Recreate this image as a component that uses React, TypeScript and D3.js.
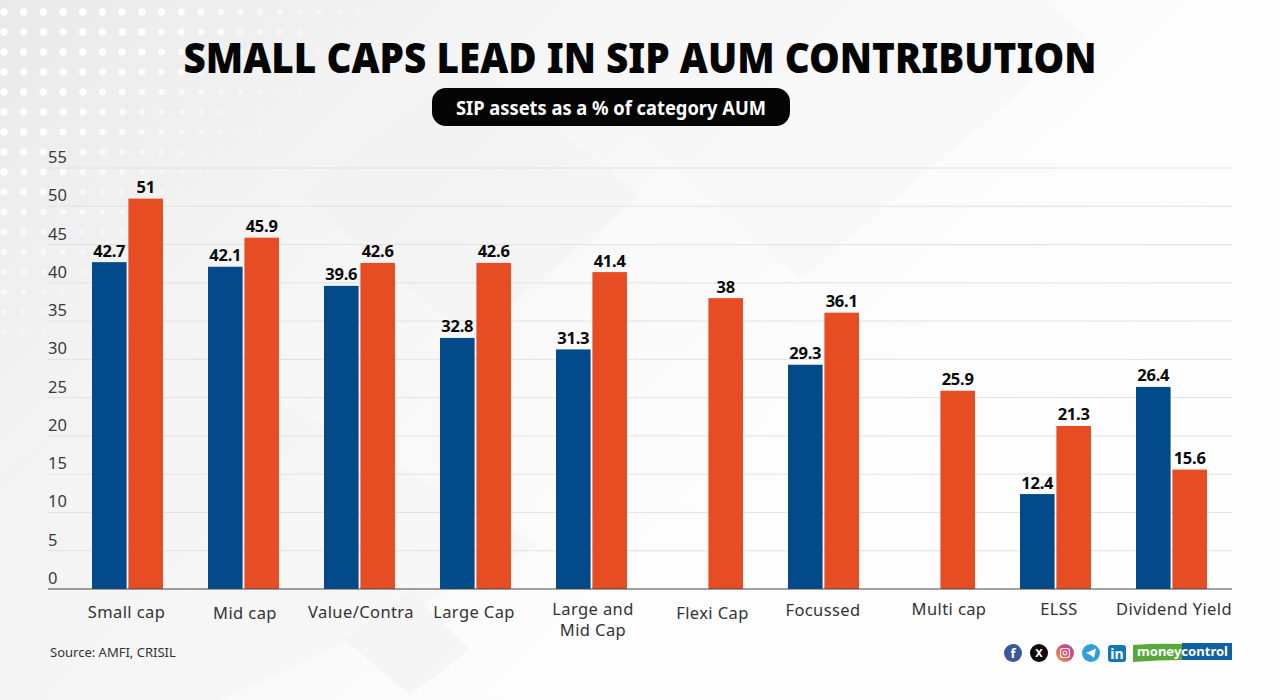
import React from "react";
import * as d3 from "d3";

const categories = ["Small cap", "Mid cap", "Value/Contra", "Large Cap", "Large and Mid Cap", "Flexi Cap", "Focussed", "Multi cap", "ELSS", "Dividend Yield"];
const blueValues: (number | null)[] = [42.7, 42.1, 39.6, 32.8, 31.3, null, 29.3, null, 12.4, 26.4];
const orangeValues: (number | null)[] = [51, 45.9, 42.6, 42.6, 41.4, 38, 36.1, 25.9, 21.3, 15.6];
const yTicks = [0, 5, 10, 15, 20, 25, 30, 35, 40, 45, 50, 55];
const seriesKeys = ["a", "b"];
const FONT = "'Noto Sans', sans-serif";
const labelDx = [-1, 1.5, 1.5, -1.5, 1.5, 5, -0.5, 9.5, 3.5, 2.5];
const labelY = [618, 619, 618, 618, 615, 619, 616, 615, 615, 615];

export default function App() {
  const y = d3.scaleLinear().domain([0, 55]).range([589, 168]);
  const x = d3.scaleBand<string>().domain(categories).range([69.5, 1229.5]).paddingInner(45 / 116).paddingOuter(22.5 / 116);
  const inner = d3.scaleBand<string>().domain(seriesKeys).range([0, x.bandwidth()]).paddingInner(0.05);
  const dots: [number, number, number, number][] = [];
  for (let r = 0; r < 17; r++) for (let c = 0; c < 24; c++) {
    const px = 4 + c * 19.7, py = 12 + r * 20;
    const fade = 1 - (c / 22) - r / 22;
    if (fade > 0.04) dots.push([px, py, fade, 1.8 + 1.9 * Math.min(1, fade * 1.6)]);
  }
  const bar = (vals: (number | null)[], key: string, color: string) => categories.map((c, i) => {
    const v = vals[i];
    if (v == null) return null;
    const bx = x(c)! + inner(key)!;
    return <g key={key + c}>
      <rect x={bx} y={y(v)} width={inner.bandwidth()} height={y(0) - y(v)} fill={color} />
      <text x={bx + inner.bandwidth() / 2} y={y(v) - 5.5} textAnchor="middle" fontFamily={FONT} fontWeight={700} fontSize={16.5} fill="#0a0a0a" letterSpacing={-0.2}>{v}</text>
    </g>;
  });
  return (
    <svg width={1280} height={700} viewBox="0 0 1280 700" style={{ position: "absolute", left: 0, top: 0 }}>
      <defs>
        <linearGradient id="bg" x1="0" y1="0" x2="1" y2="0.55">
          <stop offset="0" stopColor="#e9e9e9" />
          <stop offset="0.32" stopColor="#f5f5f5" />
          <stop offset="0.7" stopColor="#fcfcfc" />
          <stop offset="1" stopColor="#fefefe" />
        </linearGradient>
        <linearGradient id="ig" x1="0" y1="1" x2="1" y2="0">
          <stop offset="0" stopColor="#f0a040" />
          <stop offset="0.6" stopColor="#d9497c" />
          <stop offset="1" stopColor="#9a50b0" />
        </linearGradient>
      </defs>
      <rect width={1280} height={700} fill="url(#bg)" />
      <path d="M840 -160 L1087 35 L800 280 L560 60 Z" fill="#f6f6f6" opacity={0.6} />
      <path d="M470 60 L640 195 L470 340 L300 195 Z" fill="#f1f1f1" opacity={0.4} />
      <path d="M0 470 L170 340 L540 545 L350 640 L220 700 L0 700 Z" fill="#f2f2f2" opacity={0.4} />
      <path d="M410 590 L470 650 L410 695 L345 640 Z" fill="#f1f1f1" opacity={0.6} />
      {dots.map(([a, b, f, rr], i) => <circle key={i} cx={a} cy={b} r={rr} fill="#fff" opacity={Math.min(1, f * 1.5)} />)}

      <text x={640} y={73} textAnchor="middle" fontFamily={FONT} fontWeight={900} fontSize={43} fill="#050505" textLength={913} lengthAdjust="spacingAndGlyphs">SMALL CAPS LEAD IN SIP AUM CONTRIBUTION</text>
      <rect x={432} y={88} width={358} height={38} rx={14} fill="#050505" />
      <text x={611} y={115} textAnchor="middle" fontFamily={FONT} fontWeight={700} fontSize={20} fill="#fff" textLength={310} lengthAdjust="spacingAndGlyphs">SIP assets as a % of category AUM</text>

      {yTicks.map(t => <g key={t}>
        {t > 0 && <line x1={48} x2={1232} y1={y(t)} y2={y(t)} stroke="#e2e2e2" strokeWidth={1} />}
        <text x={48} y={y(t) - 5} fontFamily={FONT} fontSize={16.5} fill="#3a3a3a">{t}</text>
      </g>)}
      {bar(blueValues, "a", "#034a8a")}
      {bar(orangeValues, "b", "#e64d23")}
      <line x1={48} x2={1232} y1={y(0)} y2={y(0)} stroke="#444" strokeWidth={1.2} />

      {categories.map((c, i) => {
        const cx = x(c)! + x.bandwidth() / 2 + labelDx[i];
        if (c === "Large and Mid Cap") return <text key={c} textAnchor="middle" fontFamily={FONT} fontSize={16.5} fill="#333" letterSpacing={0.4}>
          <tspan x={cx} y={labelY[i]}>Large and</tspan>
          <tspan x={cx} y={labelY[i] + 21}>Mid Cap</tspan>
        </text>;
        return <text key={c} x={cx} y={labelY[i]} textAnchor="middle" fontFamily={FONT} fontSize={16.5} fill="#333" letterSpacing={0.4}>{c}</text>;
      })}

      <text x={50} y={657} fontFamily={FONT} fontSize={13} fill="#333">Source: AMFI, CRISIL</text>

      <circle cx={1013} cy={653} r={9} fill="#3b5998" />
      <text x={1013} y={658} textAnchor="middle" fontFamily={FONT} fontWeight={700} fontSize={13} fill="#fff">f</text>
      <circle cx={1039} cy={653} r={9} fill="#0a0a0a" />
      <text x={1039} y={657} textAnchor="middle" fontFamily={FONT} fontWeight={700} fontSize={11} fill="#fff">X</text>
      <circle cx={1065} cy={653} r={9} fill="url(#ig)" />
      <rect x={1060.5} y={648.5} width={9} height={9} rx={2.5} fill="none" stroke="#fff" strokeWidth={1.2} />
      <circle cx={1065} cy={653} r={2} fill="none" stroke="#fff" strokeWidth={1} />
      <circle cx={1091} cy={653} r={9} fill="#2e9fd9" />
      <path d="M1086 653 L1096 648.5 L1094 658 L1090.5 655 Z" fill="#fff" />
      <rect x={1108} y={645} width={18} height={17} rx={3} fill="#1477b5" />
      <text x={1117} y={658.5} textAnchor="middle" fontFamily={FONT} fontWeight={700} fontSize={14} fill="#fff">in</text>
      <path d="M1133 645 Q1158 643 1182 644 L1182 660 Q1158 660 1133 662 Z" fill="#5aa83c" />
      <rect x={1182} y={643} width={50} height={17} fill="#1160a4" />
      <text x={1182.5} y={656} textAnchor="middle" fontFamily={FONT} fontWeight={700} fontSize={13} fill="#fff" textLength={91} lengthAdjust="spacingAndGlyphs">moneycontrol</text>
    </svg>
  );
}
